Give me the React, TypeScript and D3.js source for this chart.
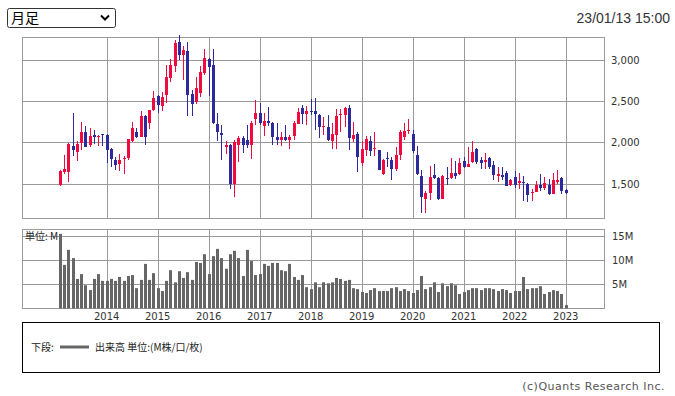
import React from 'react';
import { scaleLinear } from 'd3';

const width = 675;
const height = 396;

// monthly candles, Feb 2013 .. Jan 2023
const opens = [
  1480, 1642, 1642, 1951, 1882, 1992, 2126, 1967, 2089, 2073, 2101, 2089,
  1918, 1788, 1735, 1792, 1812, 2012, 2126, 2061, 2321, 2240, 2394, 2567,
  2435, 2579, 2785, 2924, 3214, 3056, 3111, 2587, 2492, 2599, 2837, 3004,
  2932, 2218, 2113, 1947, 1967, 1496, 1967, 2049, 2028, 1967, 2280, 2358,
  2198, 2263, 2236, 2069, 2024, 2069, 2024, 2081, 2228, 2419, 2340, 2384,
  2384, 2337, 2183, 2191, 2012, 2089, 2340, 2332, 2411, 2041, 2106, 1755,
  1911, 2020, 1927, 1902, 1618, 1813, 1789, 1671, 1841, 2065, 2142, 2102,
  1850, 1594, 1317, 1386, 1606, 1569, 1317, 1569, 1565, 1634, 1618, 1776,
  1705, 1762, 1922, 1787, 1766, 1811, 1721, 1590, 1607, 1631, 1484, 1574,
  1508, 1520, 1492, 1389, 1402, 1480, 1443, 1480, 1377, 1516, 1566, 1418,
];
const highs = [
  1667, 1845, 1993, 2357, 2012, 2247, 2195, 2171, 2155, 2085, 2105, 2101,
  1930, 1820, 1857, 1829, 2040, 2247, 2175, 2382, 2337, 2394, 2622, 2579,
  2606, 2936, 3004, 3234, 3302, 3171, 3218, 2630, 2789, 2924, 3127, 3016,
  3135, 2358, 2207, 2016, 1979, 2024, 2073, 2081, 2211, 2263, 2512, 2471,
  2358, 2431, 2248, 2232, 2122, 2207, 2089, 2263, 2419, 2447, 2443, 2528,
  2540, 2345, 2301, 2337, 2232, 2406, 2402, 2431, 2447, 2244, 2130, 2016,
  2081, 2081, 2122, 1911, 1797, 1878, 1825, 1943, 2154, 2232, 2285, 2154,
  1959, 1667, 1411, 1715, 1740, 1585, 1606, 1699, 1809, 1768, 1805, 1821,
  1943, 2020, 1934, 1828, 1873, 1820, 1775, 1697, 1705, 1655, 1557, 1655,
  1623, 1590, 1508, 1430, 1529, 1615, 1582, 1553, 1631, 1664, 1574, 1439,
];
const lows = [
  1472, 1618, 1520, 1837, 1776, 1910, 1947, 1947, 1975, 1955, 1955, 1752,
  1703, 1666, 1658, 1614, 1788, 2000, 2049, 2061, 1972, 2167, 2381, 2358,
  2378, 2478, 2734, 2849, 2996, 2758, 2320, 2320, 2459, 2547, 2821, 2559,
  2225, 2016, 1780, 1857, 1431, 1338, 1763, 1869, 1934, 1796, 2215, 2207,
  2077, 2198, 1967, 1971, 1955, 2012, 1922, 2024, 2216, 2216, 2207, 2337,
  2146, 2049, 2089, 2016, 1922, 1922, 2126, 2191, 1902, 2000, 1638, 1719,
  1829, 1829, 1829, 1659, 1606, 1707, 1549, 1650, 1780, 2032, 2106, 1870,
  1606, 1146, 1138, 1297, 1560, 1301, 1313, 1484, 1557, 1557, 1598, 1683,
  1705, 1746, 1738, 1680, 1672, 1680, 1549, 1516, 1541, 1467, 1475, 1447,
  1439, 1295, 1275, 1295, 1402, 1414, 1426, 1361, 1377, 1500, 1377, 1373,
];
const closes = [
  1655, 1675, 1980, 1906, 1980, 2126, 1947, 2073, 2069, 2081, 2093, 1910,
  1800, 1731, 1784, 1808, 2040, 2175, 2061, 2321, 2065, 2394, 2540, 2447,
  2547, 2789, 2932, 3206, 3056, 3123, 2579, 2459, 2654, 2853, 3016, 2916,
  2234, 2121, 2089, 1967, 1496, 2000, 2049, 1963, 1963, 2240, 2358, 2240,
  2263, 2240, 2065, 2024, 2069, 2024, 2069, 2236, 2373, 2340, 2384, 2368,
  2340, 2183, 2200, 2024, 2106, 2320, 2348, 2411, 2053, 2085, 1820, 1922,
  2041, 1890, 1935, 1659, 1789, 1797, 1679, 1841, 2122, 2142, 2154, 1890,
  1618, 1342, 1390, 1585, 1565, 1309, 1589, 1561, 1634, 1594, 1748, 1707,
  1742, 1885, 1758, 1754, 1787, 1697, 1598, 1615, 1582, 1475, 1549, 1480,
  1529, 1504, 1361, 1402, 1480, 1443, 1504, 1369, 1545, 1549, 1410, 1381,
];
// volume in millions
const volumes = [
  15.4, 9.0, 12.1, 10.4, 6.1, 7.1, 4.8, 3.8, 6.1, 7.1, 5.7, 5.7,
  6.1, 5.7, 6.5, 5.7, 6.7, 6.9, 4.2, 5.9, 9.2, 5.9, 7.3, 4.2,
  3.6, 5.7, 7.9, 5.4, 7.7, 6.3, 7.5, 5.9, 9.6, 9.4, 11.2, 7.1,
  10.8, 12.3, 10.4, 8.2, 11.2, 11.9, 10.4, 6.7, 12.1, 9.8, 6.9, 7.1,
  9.2, 8.8, 9.4, 9.4, 7.9, 7.7, 9.2, 6.5, 5.9, 6.9, 4.4, 4.0,
  5.4, 4.4, 5.4, 5.2, 5.4, 6.3, 6.1, 5.7, 5.9, 4.2, 4.0, 3.4,
  3.2, 3.8, 4.2, 3.6, 3.6, 3.6, 4.2, 4.4, 3.6, 4.0, 3.6, 3.2,
  3.8, 6.7, 4.0, 4.4, 5.4, 3.4, 5.2, 4.6, 5.2, 4.8, 3.0, 3.4,
  3.8, 4.2, 4.2, 3.8, 4.2, 4.2, 4.0, 3.6, 4.0, 3.8, 3.2, 3.6,
  3.6, 6.5, 4.0, 4.2, 4.2, 4.6, 3.0, 3.4, 3.8, 3.6, 3.0, 0.7,
];

const priceTicks = [1500, 2000, 2500, 3000];
const volumeTicks = [5, 10, 15];
const years = [2014, 2015, 2016, 2017, 2018, 2019, 2020, 2021, 2022, 2023];

const up = '#f00a3f';
const down = '#2c2a9c';
const gridColor = '#9a9a9a';
const axisFont = '"DejaVu Sans", Verdana, sans-serif';
const jpFont = '"Noto Sans CJK JP", sans-serif';

const left = 22.5;
const right = 604.5;
const x = scaleLinear().domain([-8.93, 128]).range([22, 604]);
const y = scaleLinear().domain([1077, 3270]).range([218.5, 37.5]);
const vy = scaleLinear().domain([0, 16.3]).range([308.5, 229.5]);

// January of each year as month index (index 0 = Feb 2013)
const yearIdx = (yr: number) => (yr - 2013) * 12 - 1;
const px = (v: number) => Math.round(v) + 0.5;

const App = () => {
  return (
    <svg
      width={width}
      height={height}
      style={{ position: 'absolute', left: 0, top: 0, background: '#fff' }}
    >
      {/* period selector */}
      <rect x={7.5} y={8.5} width={108} height={19} rx={2} fill="#fff" stroke="#333" />
      <text x={11} y={23} fontSize={14} fontFamily={jpFont} fill="#000">月足</text>
      <path d="M101,15.5 L105,19.5 L109,15.5" fill="none" stroke="#000" strokeWidth={2} />
      <text x={670} y={23} textAnchor="end" fontSize={14} fontFamily='"Liberation Sans", Arial, sans-serif' fill="#333">
        23/01/13 15:00
      </text>

      {/* price panel grid */}
      {priceTicks.map((t) => (
        <g key={t}>
          <line x1={left} x2={right} y1={px(y(t))} y2={px(y(t))} stroke={gridColor} />
          <text x={611} y={y(t) + 4} fontSize={10} fontFamily={axisFont} fill="#333">
            {t.toLocaleString('en-US')}
          </text>
        </g>
      ))}
      {years.map((yr) => (
        <line key={yr} x1={px(x(yearIdx(yr)))} x2={px(x(yearIdx(yr)))} y1={37.5} y2={218.5} stroke={gridColor} />
      ))}
      <rect x={left} y={37.5} width={right - left} height={181} fill="none" stroke={gridColor} />

      {/* candles */}
      {opens.map((o, i) => {
        const c = closes[i];
        const cx = Math.round(x(i));
        const color = c >= o ? up : down;
        const top = Math.round(y(Math.max(o, c)));
        const bot = Math.round(y(Math.min(o, c)));
        return (
          <g key={i}>
            <line x1={cx + 0.5} x2={cx + 0.5} y1={Math.round(y(highs[i]))} y2={Math.round(y(lows[i]))} stroke={color} />
            <rect x={cx - 1} y={top} width={3} height={Math.max(1, bot - top)} fill={color} />
          </g>
        );
      })}

      {/* volume panel */}
      {volumeTicks.map((t) => (
        <g key={t}>
          <line x1={left} x2={right} y1={px(vy(t))} y2={px(vy(t))} stroke={gridColor} />
          <text x={612} y={vy(t) + 4} fontSize={10} fontFamily={axisFont} fill="#333">
            {t}M
          </text>
        </g>
      ))}
      {years.map((yr) => (
        <g key={yr}>
          <line x1={px(x(yearIdx(yr)))} x2={px(x(yearIdx(yr)))} y1={229.5} y2={308.5} stroke={gridColor} />
          <text x={x(yearIdx(yr))} y={320} textAnchor="middle" fontSize={10} fontFamily={axisFont} fill="#333">
            {yr}
          </text>
        </g>
      ))}
      <rect x={left} y={229.5} width={right - left} height={79} fill="none" stroke={gridColor} />
      {volumes.map((v, i) => (
        <rect
          key={i}
          x={Math.round(x(i)) - 1}
          y={vy(v)}
          width={3}
          height={vy(0) - vy(v)}
          fill="#666"
        />
      ))}
      <text x={25} y={240} fontSize={10} fontFamily={jpFont} fill="#222">単位: M</text>

      {/* legend */}
      <rect x={22.5} y={322.5} width={637} height={50} fill="none" stroke="#000" />
      <text x={31} y={351} fontSize={10} fontFamily={jpFont} fill="#222">下段:</text>
      <line x1={60} x2={89} y1={347} y2={347} stroke="#666" strokeWidth={3} />
      <text x={95} y={351} fontSize={10} fontFamily={jpFont} fill="#222">出来高 単位:(M株/口/枚)</text>

      <text x={665} y={390} textAnchor="end" fontSize={11} letterSpacing={0.5} fontFamily={axisFont} fill="#555">
        (c)Quants Research Inc.
      </text>
    </svg>
  );
};

export default App;
